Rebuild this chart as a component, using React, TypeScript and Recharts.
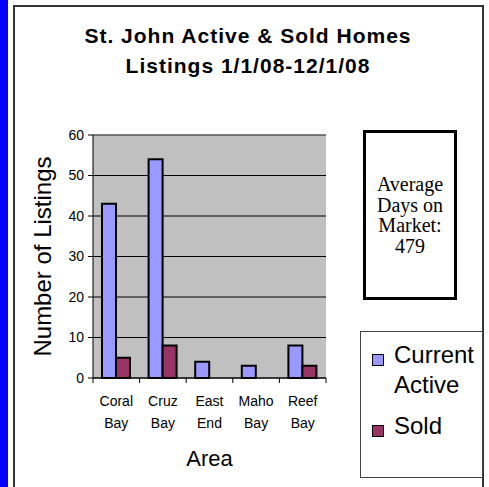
import React from 'react';
import { BarChart, Bar, XAxis, YAxis, CartesianGrid, Legend, Label, ReferenceLine } from 'recharts';

const areas = ['Coral Bay', 'Cruz Bay', 'East End', 'Maho Bay', 'Reef Bay'];
const currentActive = [43, 54, 4, 3, 8];
const sold = [5, 8, 0, 0, 3];
const yTicks = [0, 10, 20, 30, 40, 50, 60];
const titleLines = ['St. John Active & Sold Homes', 'Listings 1/1/08-12/1/08'];
const noteLines = ['Average', 'Days on', 'Market:', '479'];

const data = areas.map((area, i) => ({ area, active: currentActive[i], sold: sold[i] }));

const SANS = '"Liberation Sans", Arial, sans-serif';
const SERIF = '"Liberation Serif", "Times New Roman", serif';

// two-line category label, tick marks sit on the category boundaries
const AreaTick = (props: any) => {
  const { x, y, payload, index } = props;
  const half = payload && payload.offset ? payload.offset : 23.3;
  const words = String(payload.value).split(' ');
  return (
    <g>
      {index === 0 && <line x1={x - half} y1={y} x2={x - half} y2={y + 5} stroke="#000" />}
      <line x1={x + half} y1={y} x2={x + half} y2={y + 5} stroke="#000" />
      <text x={x} y={y} textAnchor="middle" fontSize={14} fontFamily={SANS} fill="#000">
        <tspan x={x} dy={27.7}>{words[0]}</tspan>
        <tspan x={x} dy={22}>{words[1]}</tspan>
      </text>
    </g>
  );
};

const LegendBox = (props: any) => {
  const items = props.payload || [];
  return (
    <div
      style={{
        width: 123,
        height: 147,
        boxSizing: 'border-box',
        border: '1px solid #444',
        background: '#fff',
        paddingTop: 8,
        paddingLeft: 11,
      }}
    >
      {items.map((item: any, i: number) => (
        <div key={item.value} style={{ display: 'flex', alignItems: 'flex-start', marginTop: i ? 11 : 0 }}>
          <span
            style={{
              display: 'block',
              width: 12,
              height: 12,
              boxSizing: 'border-box',
              background: item.color,
              border: '1.5px solid #000',
              marginTop: 14,
              flex: 'none',
            }}
          />
          <span style={{ marginLeft: 10, width: 88, fontSize: 24, lineHeight: '30px', fontFamily: SANS, color: '#000' }}>
            {item.value}
          </span>
        </div>
      ))}
    </div>
  );
};

export default function App() {
  return (
    <div style={{ position: 'absolute', left: 0, top: 0, width: 489, height: 487, overflow: 'hidden', background: '#fff' }}>
      <div style={{ position: 'absolute', left: 0, top: 0, width: 8, height: 487, background: '#0000FF' }} />
      <div
        style={{
          position: 'absolute',
          left: 13,
          top: 5,
          width: 471,
          height: 520,
          boxSizing: 'border-box',
          border: '2px solid #333',
        }}
      />
      <div
        style={{
          position: 'absolute',
          left: 13,
          top: 21,
          width: 470,
          textAlign: 'center',
          fontFamily: SANS,
          fontWeight: 'bold',
          fontSize: 21,
          lineHeight: '30px',
          letterSpacing: 1,
          color: '#000',
        }}
      >
        {titleLines.map((t) => (
          <div key={t}>{t}</div>
        ))}
      </div>

      <div style={{ position: 'absolute', left: 0, top: 0 }}>
        <BarChart width={489} height={487} data={data} margin={{ top: 135, right: 163, bottom: 0, left: 0 }} barGap={0}>
          <CartesianGrid vertical={false} stroke="#000" fill="#C0C0C0" />
          <ReferenceLine y={60} stroke="#808080" />
          <XAxis
            dataKey="area"
            height={109}
            axisLine={{ stroke: '#000' }}
            tickLine={false}
            tickSize={0}
            tickMargin={0}
            interval={0}
            tick={<AreaTick />}
          >
            <Label value="Area" position="insideTop" offset={72} fontSize={22} fontFamily={SANS} fill="#000" />
          </XAxis>
          <YAxis
            width={93}
            domain={[0, 60]}
            ticks={yTicks}
            axisLine={{ stroke: '#000' }}
            tickLine={{ stroke: '#000' }}
            tickSize={5}
            tickMargin={4}
            tick={{ fontSize: 14, fontFamily: SANS, fill: '#000' }}
          >
            <Label
              value="Number of Listings"
              angle={-90}
              position="center"
              dx={-4.5}
              fontSize={24}
              fontFamily={SANS}
              fill="#000"
            />
          </YAxis>
          <YAxis
            yAxisId="right"
            orientation="right"
            width={0}
            domain={[0, 60]}
            tick={false}
            tickLine={false}
            axisLine={{ stroke: '#808080' }}
          />
          <Bar dataKey="active" name="Current Active" fill="#9999FF" stroke="#000" strokeWidth={2} barSize={14} isAnimationActive={false} />
          <Bar dataKey="sold" name="Sold" fill="#993366" stroke="#000" strokeWidth={2} barSize={14} isAnimationActive={false} />
          <Legend
            layout="vertical"
            align="center"
            verticalAlign="middle"
            content={<LegendBox />}
            wrapperStyle={{ left: 360, top: 331, width: 123, height: 147 }}
          />
        </BarChart>
      </div>

      <div
        style={{
          position: 'absolute',
          left: 363,
          top: 130,
          width: 94,
          height: 170,
          boxSizing: 'border-box',
          border: '3px solid #000',
          background: '#fff',
          display: 'flex',
          flexDirection: 'column',
          justifyContent: 'center',
          alignItems: 'center',
          fontFamily: SERIF,
          fontSize: 20,
          lineHeight: '20.5px',
          color: '#000',
          textAlign: 'center',
        }}
      >
        {noteLines.map((t) => (
          <div key={t}>{t}</div>
        ))}
      </div>
    </div>
  );
}
